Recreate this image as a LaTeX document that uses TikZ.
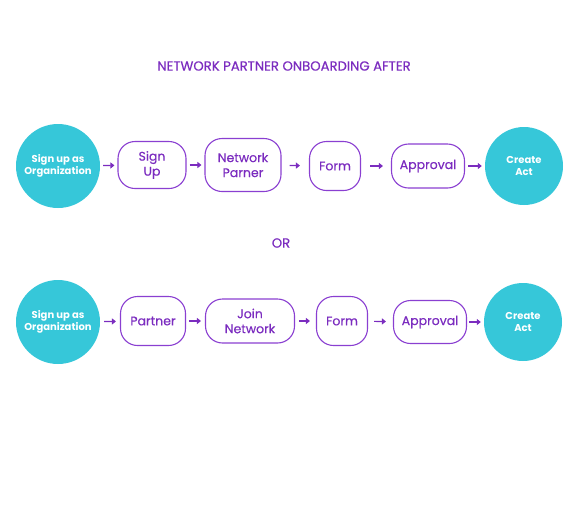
\documentclass[tikz,border=0pt]{standalone}
\usepackage{fontspec}
\setmainfont{Poppins}
\newfontfamily\medfont[FakeBold=0.5]{Poppins}
\usetikzlibrary{arrows.meta}
\definecolor{cyanc}{HTML}{36C7D9}
\definecolor{purp}{HTML}{7B2CBF}
\definecolor{purpline}{HTML}{8A3FD1}
\tikzset{
  circ/.style={circle,fill=cyanc,text=white,font=\fontsize{10}{12}\selectfont\bfseries,align=center,inner sep=0pt},
  pbox/.style={draw=purpline,line width=1.1pt,rounded corners=17pt,text=purp,font=\medfont\fontsize{12.5}{15}\selectfont,align=center,inner sep=0pt},
  arr/.style={draw=purp,line width=1.2pt,-{Triangle[length=4pt,width=6pt]}},
  sh/.style 2 args={shorten <=#1pt,shorten >=#2pt},
  ttl/.style={text=purp,font=\medfont\fontsize{13.2}{15}\selectfont}
}
\begin{document}
\begin{tikzpicture}[x=1pt,y=-1pt]
\useasboundingbox (0,0) rectangle (569,517);
\node[ttl] (title) at (284,66) {NETWORK PARTNER ONBOARDING AFTER};
\node[ttl] (or) at (281,243) {OR};
% row 1
\node[circ,minimum size=84pt] (a1) at (58,166) {Sign up as\\Organization};
\node[pbox,minimum width=68pt,minimum height=47pt] (a2) at (152,165) {Sign\\Up};
\node[pbox,minimum width=76pt,minimum height=53pt] (a3) at (243,165) {Network\\Parner};
\node[pbox,minimum width=51pt,minimum height=49pt] (a4) at (335,166) {Form};
\node[pbox,minimum width=73pt,minimum height=44pt] (a5) at (428,166) {Approval};
\node[circ,minimum size=78pt] (a6) at (524,166) {Create\\Act};
\draw[arr,sh={3}{3}] (a1) -- (a2);
\draw[arr,sh={3}{3}] (a2) -- (a3);
\draw[arr,sh={8}{9}] (a3) -- (a4);
\draw[arr,sh={9}{8}] (a4) -- (a5);
\draw[arr,sh={3}{3}] (a5) -- (a6);
% row 2
\node[circ,minimum size=84pt] (b1) at (58,322) {Sign up as\\Organization};
\node[pbox,minimum width=65pt,minimum height=49pt] (b2) at (153,321) {Partner};
\node[pbox,minimum width=89pt,minimum height=44pt] (b3) at (250,321) {Join\\Network};
\node[pbox,minimum width=51pt,minimum height=49pt] (b4) at (342,321) {Form};
\node[pbox,minimum width=73pt,minimum height=43pt] (b5) at (430,322) {Approval};
\node[circ,minimum size=78pt] (b6) at (523,322) {Create\\Act};
\draw[arr,sh={4}{4}] (b1) -- (b2);
\draw[arr,sh={3}{4}] (b2) -- (b3);
\draw[arr,sh={4}{6}] (b3) -- (b4);
\draw[arr,sh={6}{7}] (b4) -- (b5);
\draw[arr,sh={2}{3}] (b5) -- (b6);
\end{tikzpicture}
\end{document}
